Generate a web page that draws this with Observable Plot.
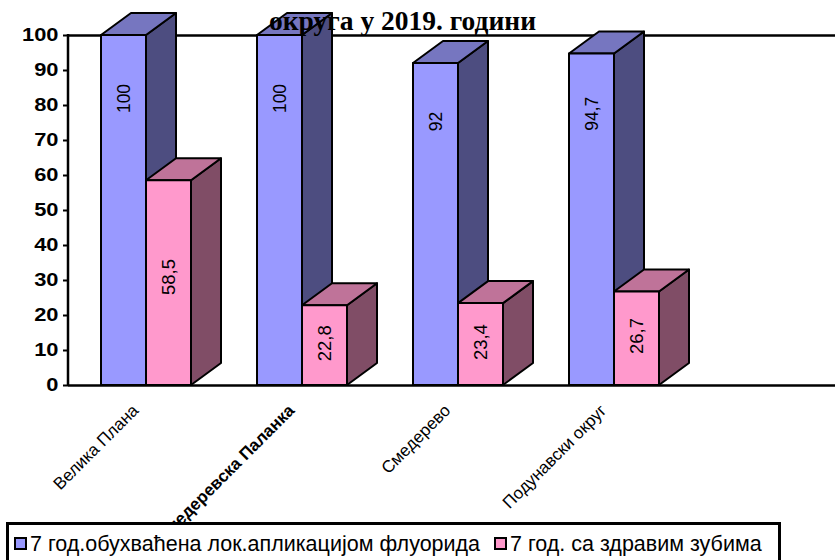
<!DOCTYPE html>
<html>
<head>
<meta charset="utf-8">
<script src="https://cdn.jsdelivr.net/npm/d3@7"></script>
<script src="https://cdn.jsdelivr.net/npm/@observablehq/plot@0.6"></script>
<style>
  html, body { margin: 0; padding: 0; background: #fff; }
  #wrap { position: relative; width: 835px; height: 560px; overflow: hidden; background: #fff; }
  #wrap svg { position: absolute; left: 0; top: 0; }
  #title { position: absolute; left: 0; top: 7px; width: 805px; text-align: center;
           font: bold 27.5px/27px "Liberation Serif", "Times New Roman", serif; color: #000; z-index: 2; white-space: nowrap; }
  #legend { position: absolute; left: 6px; top: 522px; width: 769px; height: 60px; border: 3px solid #000;
            background: #fff; z-index: 3; font: 21.5px "Liberation Sans", Arial, sans-serif; color: #000; }
  .item { position: absolute; top: 7px; white-space: nowrap; }
  .sw { display: inline-block; width: 9px; height: 9px; border: 2px solid #000; margin-right: 3px; vertical-align: 1px; }
</style>
</head>
<body>
<div id="wrap"></div>
<script>
// ---- data ----
const categories = ["Велика Плана", "Смедеревска Паланка", "Смедерево", "Подунавски округ"];
const seriesNames = ["7 год.обухваћена лок.апликацијом флуорида", "7 год. са здравим зубима"];
const fluorideValues = [100, 100, 92, 94.7];
const healthyValues = [58.5, 22.8, 23.4, 26.7];
const yTicks = [0, 10, 20, 30, 40, 50, 60, 70, 80, 90, 100];
const title = "округа у 2019. години";

// ---- styles ----
const palette = [
  {front: "#9999ff", top: "#7676c0", side: "#4d4d80"},
  {front: "#ff99cc", top: "#bf7399", side: "#804d66"}
];
const barW = 45, depthX = 30, depthY = 22;

const rows = categories.flatMap((c, i) => [
  {cat: c, series: 0, value: fluorideValues[i]},
  {cat: c, series: 1, value: healthyValues[i]}
]);
const fmt = v => String(v).replace(".", ",");

function bars3d(index, scales, values, dimensions) {
  const {x, y} = scales;
  const bw = x.bandwidth ? x.bandwidth() : 0;
  const g = d3.create("svg:g");
  // y axis line
  g.append("line")
    .attr("x1", dimensions.marginLeft).attr("x2", dimensions.marginLeft)
    .attr("y1", y(0) + 1).attr("y2", y(100) - 1)
    .attr("stroke", "#000").attr("stroke-width", 2.5);
  for (const r of rows) {
    const cx = x(r.cat) + bw / 2;
    const x0 = r.series === 0 ? cx - barW : cx;
    const x1 = x0 + barW;
    const y0 = y(0), yt = y(r.value);
    const col = palette[r.series];
    const st = s => s.attr("stroke", "#000").attr("stroke-width", 2).attr("stroke-linejoin", "round");
    g.append("polygon")
      .attr("points", [[x1, yt], [x1 + depthX, yt - depthY], [x1 + depthX, y0 - depthY], [x1, y0]].join(" "))
      .attr("fill", col.side).call(st);
    g.append("polygon")
      .attr("points", [[x0, yt], [x0 + depthX, yt - depthY], [x1 + depthX, yt - depthY], [x1, yt]].join(" "))
      .attr("fill", col.top).call(st);
    g.append("rect")
      .attr("x", x0).attr("y", yt).attr("width", barW).attr("height", y0 - yt)
      .attr("fill", col.front).call(st);
  }
  return g.node();
}

const chart = Plot.plot({
  width: 835,
  height: 560,
  marginLeft: 68,
  marginRight: 0,
  marginTop: 35,
  marginBottom: 175,
  style: {fontFamily: "'Liberation Sans', Arial, sans-serif", background: "white", overflow: "visible"},
  x: {type: "band", domain: [...categories, " "], range: [68, 848], padding: 0, round: false, axis: null},
  y: {domain: [0, 100], axis: null},
  marks: [
    Plot.ruleY([0, 100], {stroke: "#000", strokeWidth: 2.5}),
    Plot.axisY(yTicks, {tickSize: 5, tickPadding: 5, fontSize: 17.5, fontWeight: "bold", stroke: "#000", strokeWidth: 2, color: "#000"}),
    bars3d,
    Plot.text(rows.filter(r => r.series === 0), {x: "cat", y: d => d.value * 0.82, text: d => fmt(d.value), rotate: -90, dx: -22.5, fontSize: 17.5, fill: "#000"}),
    Plot.text(rows.filter(r => r.series === 1), {x: "cat", y: d => d.value * 0.53, text: d => fmt(d.value), rotate: -90, dx: 22.5, fontSize: 18.5, fill: "#000"}),
    Plot.text(categories, {x: d => d, frameAnchor: "bottom", rotate: -45, textAnchor: "end", dx: -7, dy: 26, fontSize: 17, fill: "#000"})
  ]
});

// stretch the y tick labels horizontally like the reference
d3.select(chart).selectAll("g[aria-label='y-axis tick label'] text").each(function () {
  const t = this.getAttribute("transform") || "";
  this.setAttribute("transform", t + " scale(1.25,1)");
});
// the second category label appears bold in the reference
d3.select(chart).selectAll("text").filter(function () { return this.textContent === categories[1]; })
  .attr("font-weight", "bold");

const wrap = document.getElementById("wrap");
wrap.appendChild(chart);

const t = document.createElement("div");
t.id = "title";
t.textContent = title;
wrap.appendChild(t);

const legend = document.createElement("div");
legend.id = "legend";
const lefts = [5, 485];
seriesNames.forEach((name, i) => {
  const it = document.createElement("div");
  it.className = "item";
  it.style.left = lefts[i] + "px";
  const sw = document.createElement("span");
  sw.className = "sw";
  sw.style.background = palette[i].front;
  it.appendChild(sw);
  it.appendChild(document.createTextNode(name));
  legend.appendChild(it);
});
wrap.appendChild(legend);
</script>
</body>
</html>
